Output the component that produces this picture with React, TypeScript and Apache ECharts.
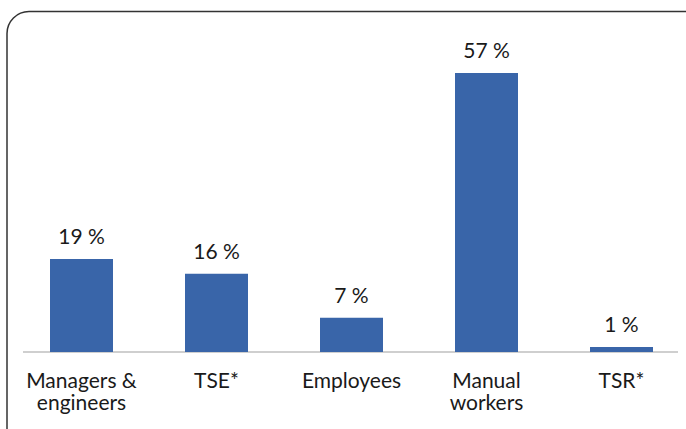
import React, { useEffect, useRef } from "react";
import * as echarts from "echarts";

const categories: string[] = ["Managers &\nengineers", "TSE*", "Employees", "Manual\nworkers", "TSR*"];
const values: number[] = [19, 16, 7, 57, 1];

export default function App() {
  const ref = useRef<HTMLDivElement>(null);
  useEffect(() => {
    if (!ref.current) return;
    const chart = echarts.init(ref.current, null, { renderer: "svg" });
    const font = "Lato, 'Noto Sans', sans-serif";
    chart.setOption({
      animation: false,
      backgroundColor: "#ffffff",
      grid: { left: 81.5, right: 64.5, top: 58.3, bottom: 77, containLabel: false },
      xAxis: {
        type: "category",
        data: categories,
        boundaryGap: false,
        axisLine: { show: false },
        axisTick: { show: false },
        splitLine: { show: false },
        axisLabel: {
          color: "#1a1a1a",
          fontSize: 21,
          fontFamily: font,
          lineHeight: 22,
          margin: 16,
          interval: 0,
        },
      },
      yAxis: {
        type: "value",
        min: 0,
        max: 60,
        show: false,
        splitLine: { show: false },
      },
      series: [
        {
          type: "bar",
          data: values,
          barWidth: 63,
          clip: false,
          itemStyle: { color: "#3965a9" },
          label: {
            show: true,
            position: "top",
            distance: 13,
            formatter: "{c} %",
            color: "#1a1a1a",
            fontSize: 21,
            fontFamily: font,
          },
        },
      ],
      graphic: [
        {
          type: "rect",
          shape: { x: 7, y: 11.5, width: 720, height: 460, r: 22 },
          style: { fill: "none", stroke: "#333333", lineWidth: 1.5 },
          silent: true,
        },
        {
          type: "line",
          shape: { x1: 23, y1: 352, x2: 678, y2: 352 },
          style: { stroke: "#a0a0a0", lineWidth: 1.2 },
          silent: true,
        },
      ],
    });
    return () => chart.dispose();
  }, []);
  return (
    <div
      ref={ref}
      style={{ position: "fixed", left: 0, top: 0, width: 686, height: 429 }}
    />
  );
}
